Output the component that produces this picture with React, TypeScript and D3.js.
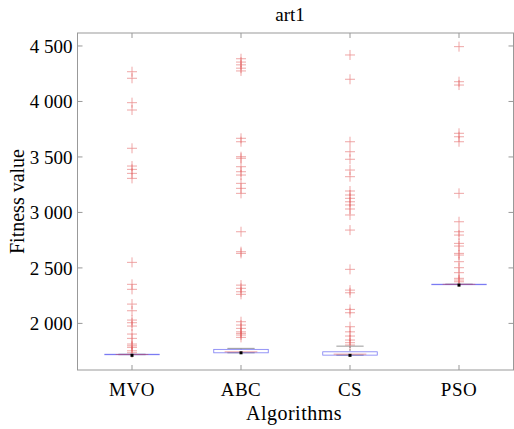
import React from "react";
import * as d3 from "d3";

const title = "art1";
const categories = ["MVO", "ABC", "CS", "PSO"];
const yTicks = [2000, 2500, 3000, 3500, 4000, 4500];

const q1Values = [1718, 1735, 1714, 2351];
const medianValues = [1720, 1744, 1723, 2352];
const q3Values = [1722, 1766, 1744, 2353];
const whiskerLow = [1718, 1735, 1714, 2351];
const whiskerHigh = [1722, 1775, 1795, 2353];
const markerValues = [1712, 1735, 1712, 2345];

const outliersMVO = [4268, 4209, 3989, 3923, 3578, 3418, 3388, 3352, 3307, 2550, 2352, 2307, 2174, 2114, 2030, 2006, 1976, 1904, 1865, 1814, 1798, 1784, 1753, 1735];
const outliersABC = [4385, 4355, 4330, 4300, 4275, 3668, 3637, 3502, 3488, 3412, 3367, 3337, 3262, 3217, 3172, 2826, 2646, 2631, 2345, 2316, 2285, 2262, 2015, 1985, 1955, 1924, 1910, 1895, 1874];
const outliersCS = [4419, 4200, 3637, 3547, 3479, 3382, 3322, 3193, 3157, 3127, 3096, 3067, 3031, 2977, 2841, 2487, 2300, 2276, 2126, 2096, 1970, 1924, 1886, 1850, 1826, 1805];
const outliersPSO = [4494, 4178, 4148, 3713, 3682, 3637, 3172, 2916, 2826, 2796, 2721, 2697, 2631, 2616, 2556, 2502, 2457, 2406, 2391, 2375];
const outliers = [outliersMVO, outliersABC, outliersCS, outliersPSO];

const W = 514, H = 429;
const left = 77.5, right = 513.5, top = 33, bottom = 370;
const font = "'Liberation Serif', 'Times New Roman', serif";

export default function App() {
  const x = d3.scaleLinear().domain([0.5, 4.5]).range([left, right]);
  const y = d3.scaleLinear().domain([1580, 4617]).range([bottom, top]);
  const boxHalf = x(1.25) - x(1);
  const capHalf = x(1.125) - x(1);
  const axisColor = "#999";
  const red = "#e04848";
  const blue = "#5a5af0";

  return (
    <svg width={W} height={H} style={{ position: "absolute", left: 0, top: 0, background: "#fff" }}>
      <rect x={0} y={0} width={W} height={H} fill="#fff" />
      <text x={290} y={21} textAnchor="middle" fontFamily={font} fontSize={19}>{title}</text>
      <rect x={left} y={top} width={right - left} height={bottom - top} fill="none" stroke={axisColor} strokeWidth={1} />
      {yTicks.map((t) => (
        <g key={t}>
          <line x1={left} x2={left + 5} y1={y(t)} y2={y(t)} stroke={axisColor} />
          <line x1={right - 5} x2={right} y1={y(t)} y2={y(t)} stroke={axisColor} />
          <text x={left - 5} y={y(t)} dy="0.35em" textAnchor="end" fontFamily={font} fontSize={19}>
            {d3.format(",")(t).replace(",", " ")}
          </text>
        </g>
      ))}
      {categories.map((c, i) => (
        <g key={c}>
          <line x1={x(i + 1)} x2={x(i + 1)} y1={bottom} y2={bottom - 5} stroke={axisColor} />
          <line x1={x(i + 1)} x2={x(i + 1)} y1={top} y2={top + 5} stroke={axisColor} />
          <text x={x(i + 1)} y={396} textAnchor="middle" fontFamily={font} fontSize={19} letterSpacing={0.5}>{c}</text>
        </g>
      ))}
      <text x={294} y={420} textAnchor="middle" fontFamily={font} fontSize={20} letterSpacing={0.5}>Algorithms</text>
      <text transform={`translate(24,${(top + bottom) / 2}) rotate(-90)`} textAnchor="middle" fontFamily={font} fontSize={20}>Fitness value</text>
      {categories.map((c, i) => {
        const cx = x(i + 1);
        return (
          <g key={c}>
            {outliers[i].map((v, j) => (
              <g key={j} stroke={red} strokeWidth={0.8} opacity={0.6}>
                <line x1={cx - 5} x2={cx + 5} y1={y(v)} y2={y(v)} />
                <line x1={cx} x2={cx} y1={y(v) - 5} y2={y(v) + 5} />
              </g>
            ))}
            <line x1={cx} x2={cx} y1={y(whiskerHigh[i])} y2={y(q3Values[i])} stroke="#888" strokeDasharray="2,1" />
            <line x1={cx} x2={cx} y1={y(whiskerLow[i])} y2={y(q1Values[i])} stroke="#888" strokeDasharray="2,1" />
            <line x1={cx - capHalf} x2={cx + capHalf} y1={y(whiskerHigh[i])} y2={y(whiskerHigh[i])} stroke="#999" />
            <line x1={cx - capHalf} x2={cx + capHalf} y1={y(whiskerLow[i])} y2={y(whiskerLow[i])} stroke="#999" />
            <rect x={cx - boxHalf} y={y(q3Values[i])} width={2 * boxHalf} height={Math.max(0.5, y(q1Values[i]) - y(q3Values[i]))} fill="none" stroke={blue} strokeWidth={0.8} opacity={0.8} />
            <line x1={cx - boxHalf * 0.6} x2={cx + boxHalf * 0.6} y1={y(medianValues[i])} y2={y(medianValues[i])} stroke={red} strokeWidth={0.8} opacity={0.6} />
            <rect x={cx - 1.5} y={y(markerValues[i]) - 1.5} width={3} height={3} fill="#000" />
          </g>
        );
      })}
    </svg>
  );
}
